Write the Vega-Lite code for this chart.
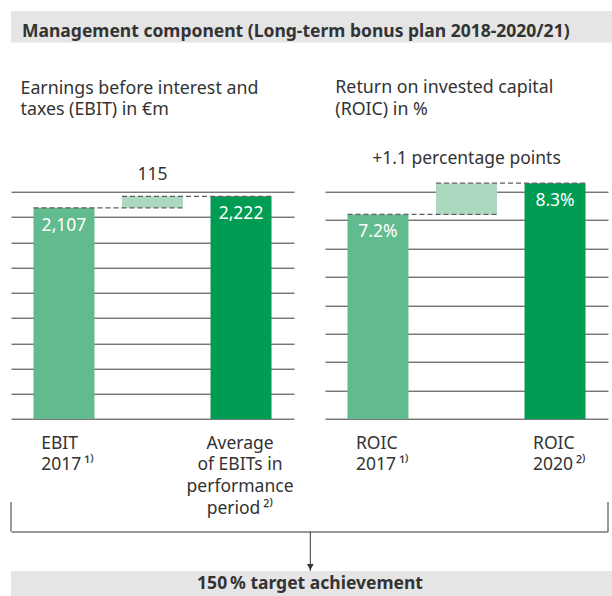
{
  "$schema": "https://vega.github.io/schema/vega-lite/v6.json",
  "padding": {"left": 10, "top": 11, "right": 0, "bottom": 0},
  "background": "#ffffff",
  "config": {
    "font": "Noto Sans",
    "view": {"stroke": null},
    "axis": {"labelFont": "Noto Sans", "titleFont": "Noto Sans"},
    "title": {"font": "Noto Sans"},
    "text": {"font": "Noto Sans"}
  },
  "spacing": 35.7,
  "vconcat": [
    {
      "width": 602,
      "height": 31.5,
      "data": {"values": [{"heading": "Management component (Long-term bonus plan 2018-2020/21)"}]},
      "title": {
        "text": "Management component (Long-term bonus plan 2018-2020/21)",
        "anchor": "start",
        "frame": "group",
        "dx": 11,
        "offset": -43.5,
        "baseline": "alphabetic",
        "fontSize": 17.5,
        "fontWeight": "bold",
        "color": "#333333"
      },
      "mark": {"type": "rect", "color": "#e5e5e5"},
      "encoding": {}
    },
    {
      "spacing": 310.3,
      "bounds": "flush",
      "vconcat": [
        {
          "hconcat": [
            {
              "width": 283,
              "height": 227.3,
              "title": {
                "text": ["Earnings before interest and", "taxes (EBIT) in €m"],
                "anchor": "start",
                "frame": "group",
                "dx": 9.5,
                "offset": 28.5,
                "baseline": "bottom",
                "lineHeight": 21.6,
                "fontSize": 17.8,
                "fontWeight": "normal",
                "color": "#333333"
              },
              "layer": [
                {
                  "data": {"values": [
                    {"cat": "EBIT 2017", "kind": "base", "start": 0, "end": 2107, "label": "2,107"},
                    {"cat": "increase", "kind": "delta", "start": 2107, "end": 2222, "label": "115"},
                    {"cat": "Average", "kind": "result", "start": 0, "end": 2222, "label": "2,222"}
                  ]},
                  "layer": [
                    {
                      "mark": {"type": "bar"},
                      "encoding": {
                        "x": {
                          "field": "cat", "type": "nominal", "sort": null,
                          "scale": {"domain": ["EBIT 2017", "increase", "Average"], "paddingInner": 0.311, "paddingOuter": 0.254},
                          "axis": {
                            "title": null, "domain": false, "ticks": false, "tickSize": 0,
                            "labelAngle": 0, "labelPadding": 15, "labelBaseline": "top",
                            "labelFontSize": 17.5, "labelColor": "#333333", "labelLineHeight": 21.7,
                            "labelOverlap": false, "labelLimit": 0,
                            "labelExpr": "datum.value === 'EBIT 2017' ? ['EBIT', '2017\u2009¹⁾'] : datum.value === 'Average' ? ['Average', 'of EBITs in', 'performance', 'period\u2009²⁾'] : ''",
                            "labelAlign": {"condition": {"test": "datum.value === 'Average'", "value": "center"}, "value": "left"},
                            "labelOffset": {"condition": {"test": "datum.value === 'Average'", "value": -1}, "value": -22.8}
                          }
                        },
                        "y": {
                          "field": "end", "type": "quantitative",
                          "scale": {"domain": [0, 2268], "nice": false, "zero": false},
                          "axis": {
                            "title": null, "values": [0, 252, 504, 756, 1008, 1260, 1512, 1764, 2016, 2268],
                            "tickCount": 20,
                            "grid": true, "gridColor": "#3a3a3a", "gridWidth": 1,
                            "domain": false, "ticks": false, "labels": false
                          }
                        },
                        "y2": {"field": "start"},
                        "color": {
                          "field": "kind", "type": "nominal",
                          "scale": {"domain": ["base", "delta", "result"], "range": ["#62bb8e", "#acd8bf", "#009c53"]},
                          "legend": null
                        }
                      }
                    },
                    {
                      "transform": [{"filter": "datum.kind !== 'delta'"}],
                      "mark": {"type": "text", "baseline": "top", "dy": 9, "fontSize": 17.5, "color": "#ffffff"},
                      "encoding": {
                        "x": {"field": "cat", "type": "nominal"},
                        "y": {"field": "end", "type": "quantitative"},
                        "text": {"field": "label"}
                      }
                    },
                    {
                      "transform": [{"filter": "datum.kind === 'delta'"}],
                      "mark": {"type": "text", "baseline": "alphabetic", "dy": -16.6, "fontSize": 17.5, "color": "#333333"},
                      "encoding": {
                        "x": {"field": "cat", "type": "nominal"},
                        "y": {"field": "end", "type": "quantitative"},
                        "text": {"field": "label"}
                      }
                    }
                  ]
                },
                {
                  "data": {"values": [
                    {"from": "EBIT 2017", "to": "increase", "level": 2107},
                    {"from": "increase", "to": "Average", "level": 2222}
                  ]},
                  "mark": {"type": "rule", "strokeDash": [5, 3], "color": "#5e5e5e", "strokeWidth": 1.2},
                  "encoding": {
                    "x": {"field": "from", "type": "nominal", "bandPosition": 0},
                    "x2": {"field": "to", "bandPosition": 1},
                    "y": {"field": "level", "type": "quantitative"}
                  }
                }
              ]
            },
            {
              "width": 283,
              "height": 227.3,
              "title": {
                "text": ["Return on invested capital", "(ROIC) in %"],
                "anchor": "start",
                "frame": "group",
                "dx": 10.3,
                "offset": 13.5,
                "baseline": "bottom",
                "lineHeight": 21.6,
                "fontSize": 17.8,
                "fontWeight": "normal",
                "color": "#333333"
              },
              "layer": [
                {
                  "data": {"values": [
                    {"cat": "ROIC 2017", "kind": "base", "start": 0, "end": 7.2, "label": "7.2%"},
                    {"cat": "increase", "kind": "delta", "start": 7.2, "end": 8.3, "label": "+1.1 percentage points"},
                    {"cat": "ROIC 2020", "kind": "result", "start": 0, "end": 8.3, "label": "8.3%"}
                  ]},
                  "layer": [
                    {
                      "mark": {"type": "bar"},
                      "encoding": {
                        "x": {
                          "field": "cat", "type": "nominal", "sort": null,
                          "scale": {"domain": ["ROIC 2017", "increase", "ROIC 2020"], "paddingInner": 0.311, "paddingOuter": 0.254},
                          "axis": {
                            "title": null, "domain": false, "ticks": false, "tickSize": 0,
                            "labelAngle": 0, "labelPadding": 15, "labelBaseline": "top",
                            "labelFontSize": 17.5, "labelColor": "#333333", "labelLineHeight": 21.7,
                            "labelOverlap": false, "labelLimit": 0,
                            "labelExpr": "datum.value === 'ROIC 2017' ? ['ROIC', '2017\u2009¹⁾'] : datum.value === 'ROIC 2020' ? ['ROIC', '2020\u2009²⁾'] : ''",
                            "labelAlign": "left",
                            "labelOffset": -22
                          }
                        },
                        "y": {
                          "field": "end", "type": "quantitative",
                          "scale": {"domain": [0, 8], "nice": false, "zero": false},
                          "axis": {
                            "title": null, "values": [0, 1, 2, 3, 4, 5, 6, 7, 8],
                            "tickCount": 20,
                            "grid": true, "gridColor": "#3a3a3a", "gridWidth": 1,
                            "domain": false, "ticks": false, "labels": false
                          }
                        },
                        "y2": {"field": "start"},
                        "color": {
                          "field": "kind", "type": "nominal",
                          "scale": {"domain": ["base", "delta", "result"], "range": ["#62bb8e", "#acd8bf", "#009c53"]},
                          "legend": null
                        }
                      }
                    },
                    {
                      "transform": [{"filter": "datum.kind !== 'delta'"}],
                      "mark": {"type": "text", "baseline": "top", "dy": 9, "fontSize": 17.5, "color": "#ffffff"},
                      "encoding": {
                        "x": {"field": "cat", "type": "nominal"},
                        "y": {"field": "end", "type": "quantitative"},
                        "text": {"field": "label"}
                      }
                    },
                    {
                      "transform": [{"filter": "datum.kind === 'delta'"}],
                      "mark": {"type": "text", "baseline": "alphabetic", "dy": -19.2, "fontSize": 17.5, "color": "#333333"},
                      "encoding": {
                        "x": {"field": "cat", "type": "nominal"},
                        "y": {"field": "end", "type": "quantitative"},
                        "text": {"field": "label"}
                      }
                    }
                  ]
                },
                {
                  "data": {"values": [
                    {"from": "ROIC 2017", "to": "increase", "level": 7.2},
                    {"from": "increase", "to": "ROIC 2020", "level": 8.3}
                  ]},
                  "mark": {"type": "rule", "strokeDash": [5, 3], "color": "#5e5e5e", "strokeWidth": 1.2},
                  "encoding": {
                    "x": {"field": "from", "type": "nominal", "bandPosition": 0},
                    "x2": {"field": "to", "bandPosition": 1},
                    "y": {"field": "level", "type": "quantitative"}
                  }
                }
              ]
            }
          ],
          "spacing": 31,
          "bounds": "flush"
        },
        {
          "vconcat": [
            {
              "width": 597,
              "height": 29.5,
              "data": {"values": [{"end": "EBIT"}, {"end": "ROIC"}]},
              "mark": {"type": "rule", "color": "#333333", "strokeWidth": 1},
              "encoding": {
                "x": {
                  "field": "end", "type": "nominal",
                  "scale": {"type": "point", "padding": 0},
                  "axis": {"title": null, "labels": false, "ticks": false, "grid": false, "domain": true, "domainColor": "#333333", "domainWidth": 1}
                }
              }
            },
            {
              "width": 598.6,
              "height": 39,
              "data": {"values": [{"flow": "combined"}]},
              "layer": [
                {
                  "mark": {"type": "rule", "color": "#333333", "strokeWidth": 1},
                  "encoding": {"x": {"field": "flow", "type": "nominal", "scale": {"type": "point"}, "axis": null}}
                },
                {
                  "mark": {"type": "point", "shape": "triangle-down", "filled": true, "color": "#333333", "opacity": 1, "size": 45, "yOffset": -4},
                  "encoding": {
                    "x": {"field": "flow", "type": "nominal", "axis": null},
                    "y": {"datum": 0, "type": "quantitative", "scale": {"domain": [0, 1]}, "axis": null}
                  }
                }
              ]
            },
            {
              "width": 602,
              "height": 27,
              "data": {"values": [{"result": "150\u2009% target achievement"}]},
              "layer": [
                {"mark": {"type": "rect", "color": "#e5e5e5"}, "encoding": {}},
                {
                  "mark": {"type": "text", "fontSize": 17.5, "fontWeight": "bold", "color": "#333333", "baseline": "alphabetic", "dy": 4.5, "dx": -2},
                  "encoding": {"text": {"field": "result"}}
                }
              ]
            }
          ],
          "spacing": 0,
          "bounds": "flush"
        }
      ]
    }
  ]
}
